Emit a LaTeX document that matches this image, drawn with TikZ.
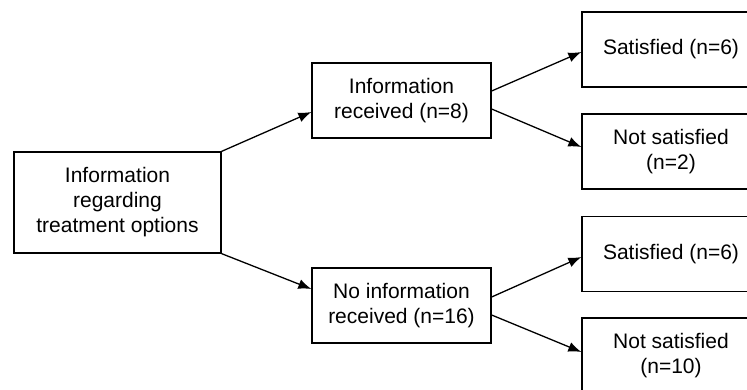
\documentclass[tikz,border=0pt]{standalone}
\usepackage{fontspec}
\setmainfont{Liberation Sans}
\usetikzlibrary{arrows.meta}

\begin{document}
\begin{tikzpicture}[x=1pt, y=-1pt, line width=1.3pt,
  box/.style={draw, align=center, inner sep=0pt, font=\fontsize{21}{25}\selectfont},
  arr/.style={-{Latex[length=13pt, width=10pt]}},
  ]

\useasboundingbox (0,0) rectangle (747,389);
\clip (0,0) rectangle (747,389);

% first level
\node (info) [box, minimum width=207pt, minimum height=101pt] at (117.5, 202.5) {Information\\regarding\\treatment options};

% second level
\node (recv) [box, minimum width=179pt, minimum height=75pt] at (401.5, 100.5) {Information\\received (n=8)};
\node (norecv) [box, minimum width=179pt, minimum height=75pt] at (401.5, 305.5) {No information\\received (n=16)};

% outcomes
\node (sat1) [box, minimum width=178pt, minimum height=75pt] at (671, 49.5) {Satisfied (n=6)};
\node (nsat1) [box, minimum width=178pt, minimum height=75pt] at (671, 151.5) {Not satisfied\\(n=2)};
\node (sat2) [box, minimum width=178pt, minimum height=75pt] at (671, 254) {Satisfied (n=6)};
\node (nsat2) [box, minimum width=178pt, minimum height=75pt] at (671, 355.5) {Not satisfied\\(n=10)};

\draw [arr] (info.north east) -- ([yshift=-11.5pt]recv.west);
\draw [arr] (info.south east) -- ([yshift=16.5pt]norecv.west);

\draw [arr] ([yshift=9.5pt]recv.east) -- ([yshift=-2.5pt]sat1.west);
\draw [arr] ([yshift=-8.5pt]recv.east) -- ([yshift=4.5pt]nsat1.west);
\draw [arr] ([yshift=8.5pt]norecv.east) -- ([yshift=-3pt]sat2.west);
\draw [arr] ([yshift=-9.5pt]norecv.east) -- ([yshift=3.5pt]nsat2.west);

\end{tikzpicture}
\end{document}
